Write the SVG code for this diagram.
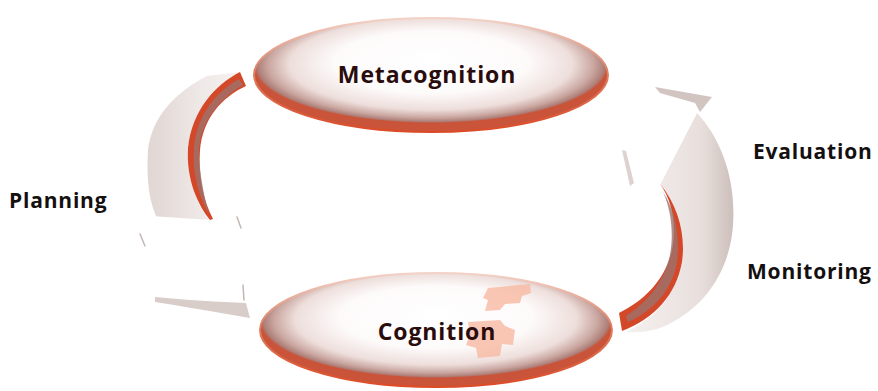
<svg xmlns="http://www.w3.org/2000/svg" width="878" height="391" viewBox="0 0 878 391">
<defs>
<style>
.lbl{font-family:"Open Sans","Noto Sans","DejaVu Sans",sans-serif;font-weight:700;fill:#141010;font-size:21px;letter-spacing:0.8px;}
.nlbl{font-family:"Open Sans","Noto Sans","DejaVu Sans",sans-serif;font-weight:700;fill:#2a0c0c;font-size:23px;letter-spacing:0.9px;}
.red{fill:#d4482a;}
.brown{fill:#9c736d;opacity:0.8;}
.head{fill:#ffffff;}
.edge{fill:none;stroke:#c4b7b3;stroke-width:1.5;stroke-linejoin:round;stroke-linecap:round;}
.patch{fill:#f8b9a3;opacity:0.8;}
</style>
<radialGradient id="ellFill" cx="50%" cy="42%" r="50%" fx="50%" fy="35%">
<stop offset="0" stop-color="#ffffff"/>
<stop offset="0.55" stop-color="#fdfafa"/>
<stop offset="0.8" stop-color="#eddedb"/>
<stop offset="0.92" stop-color="#caa6a0"/>
<stop offset="0.98" stop-color="#ad7f78"/>
<stop offset="1" stop-color="#c9543a"/>
</radialGradient>
<linearGradient id="ellStroke" x1="0" y1="0" x2="0" y2="1">
<stop offset="0" stop-color="#f3d2c7"/>
<stop offset="0.45" stop-color="#df8468"/>
<stop offset="1" stop-color="#dc4a26"/>
</linearGradient>
<linearGradient id="grayL" x1="0" y1="0" x2="1" y2="0">
<stop offset="0" stop-color="#e0d6d3"/>
<stop offset="0.6" stop-color="#efe9e7"/>
<stop offset="1" stop-color="#f6f2f1"/>
</linearGradient>
<linearGradient id="grayR" x1="1" y1="0" x2="0" y2="0">
<stop offset="0" stop-color="#cdbfbb"/>
<stop offset="0.3" stop-color="#e8dfdc"/>
<stop offset="1" stop-color="#f5f1f0"/>
</linearGradient>
</defs>
<rect width="878" height="391" fill="#ffffff"/>

<g id="connectors">
  <g id="planning-arrow">
    <path fill="url(#grayL)" d="M207,76 C176,92 152,116 148,150 C146,182 150,205 158,220 L209,220 C197,203 186,180 188,148 C192,110 215,85 240,72 Z"/>
    <path class="head" d="M150,216 L212,220 L237,216 L244,300 L250,318 L155,300 L140,236 Z"/>
    <path fill="#d8cdc9" d="M155,297 C185,300 220,302 246,303 L250,318 C215,312 180,306 155,302 Z"/>
    <path class="edge" d="M237,217 L241,228 M243,285 L244,300 M140,234 L145,246"/>
    <path class="red" d="M240,72 C215,85 192,110 188,148 C186,180 198,205 210,220 L213,219 C203,200 198,175 200,150 C203,118 222,97 246,86 Z"/>
    <path class="brown" d="M239,79 C216,92 197,115 194,148 C192,175 200,198 209,214 C204,196 199,172 199,150 C201,121 219,99 243,85 Z"/>
  </g>
  <g id="evaluation-arrow">
    <path fill="url(#grayR)" d="M697,113 C722,140 736,180 733,225 C730,270 705,310 660,328 C648,332 636,333 626,332 C655,318 676,295 682,262 C686,235 678,205 660,184 Z"/>
    <path class="head" d="M660,185 L632,186 L622,150 L650,87 L712,97 L697,113 Z"/>
    <path fill="#d2c5c1" d="M655,87 L712,97 L700,112 L695,103 L660,93 Z"/>
    <path fill="#ddd2cf" d="M622,150 L626,151 L634,183 L630,186 Z"/>
    <path class="red" d="M660,184 C678,205 686,235 682,262 C676,295 655,318 622,331 L619,313 C645,300 665,280 672,250 C677,225 672,200 660,184 Z"/>
    <path class="brown" d="M663,192 C676,212 680,238 677,262 C672,290 654,310 628,322 L626,316 C648,302 664,282 670,255 C674,232 671,210 663,192 Z"/>
  </g>
</g>

<g id="metacognition">
  <ellipse cx="431" cy="75" rx="177" ry="57" fill="url(#ellFill)" stroke="url(#ellStroke)" stroke-width="2"/>
  <text class="nlbl" x="427" y="83" text-anchor="middle">Metacognition</text>
</g>

<g id="cognition">
  <ellipse cx="436" cy="330" rx="176" ry="57" fill="url(#ellFill)" stroke="url(#ellStroke)" stroke-width="2"/>
  <path class="patch" d="M488,288 L530,284 L531,293 L522,296 L520,303 L505,304 L500,310 L485,311 L488,300 L483,298 Z M468,322 L500,320 L505,326 L515,330 L513,345 L502,344 L500,356 L478,358 L476,348 L466,345 L470,335 Z"/>
  <text class="nlbl" x="437" y="340" text-anchor="middle">Cognition</text>
</g>

<g id="planning-label"><text class="lbl" x="9" y="208">Planning</text></g>
<g id="evaluation-label"><text class="lbl" x="753" y="159">Evaluation</text></g>
<g id="monitoring-label"><text class="lbl" x="747" y="279">Monitoring</text></g>
</svg>
